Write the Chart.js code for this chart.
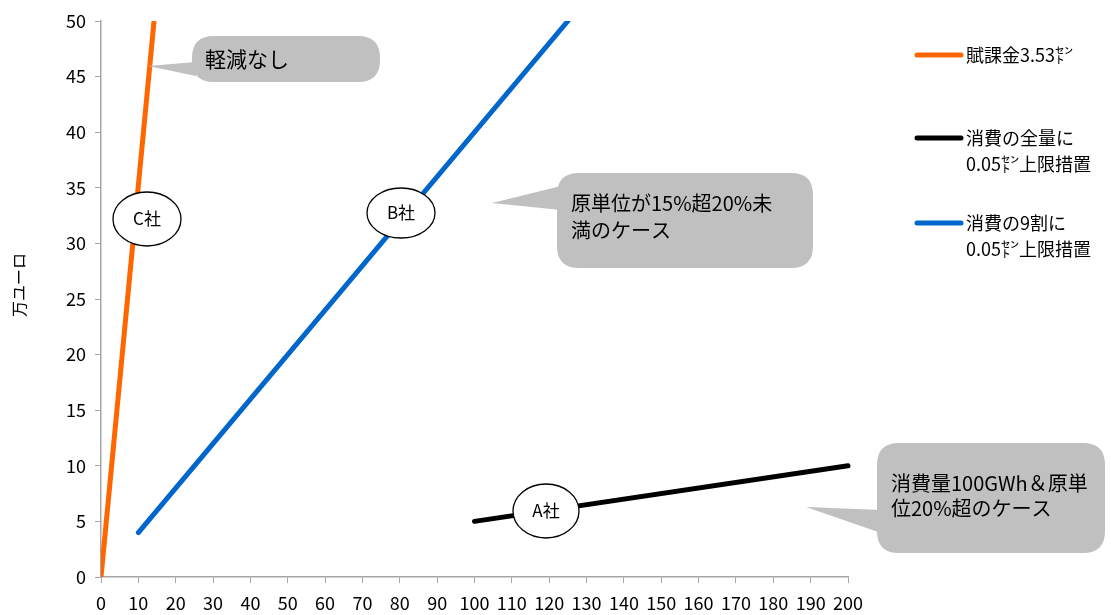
<!DOCTYPE html>
<html>
<head>
<meta charset="utf-8">
<script src="https://cdn.jsdelivr.net/npm/chart.js@4/dist/chart.umd.min.js"></script>
<style>
    html, body { margin: 0; padding: 0; background: #fff; }
</style>
</head>
<body>
<canvas id="chart" width="1111" height="615"></canvas>
<script>
// series labels (legend, each entry = lines of text)
const seriesLabels = [
    ["賦課金3.53㌣"],
    ["消費の全量に", "0.05㌣上限措置"],
    ["消費の9割に", "0.05㌣上限措置"],
];
const seriesColors = ["#ff6600", "#000000", "#0066cc"];

// 賦課金3.53セント (C社, 軽減なし)
const noReliefX = [0, 14.2];
const noReliefY = [0, 50];
// 消費の全量に0.05セント上限 (A社)
const fullCapX = [100, 200];
const fullCapY = [5, 10];
// 消費の9割に0.05セント上限 (B社)
const ninetyCapX = [10, 125];
const ninetyCapY = [4, 50];

const xMin = 0, xMax = 200, xStep = 10;
const yMin = 0, yMax = 50, yStep = 5;
const yAxisTitle = "万ユーロ";

const FONT = "'Noto Sans CJK JP', 'Noto Sans', sans-serif";

const toPoints = (xs, ys) => xs.map((x, i) => ({ x: x, y: ys[i] }));

// decorations: labels on lines and speech-bubble notes
const companyTags = [
    { text: "C社", cx: 147, cy: 219, rx: 34, ry: 27 },
    { text: "B社", cx: 401, cy: 213, rx: 34, ry: 25 },
    { text: "A社", cx: 546, cy: 511, rx: 33, ry: 27 },
];
const notes = [
    { lines: ["軽減なし"], box: [192, 36, 380, 82], tip: [148, 66], base: [62, 76], tx: 205, ty: 59, size: 21, lh: 26 },
    { lines: ["原単位が15%超20%未", "満のケース"], box: [557, 173, 813, 268], tip: [492, 203], base: [186, 210], tx: 571, ty: 203, size: 20, lh: 27 },
    { lines: ["消費量100GWh＆原単", "位20%超のケース"], box: [877, 443, 1105, 553], tip: [806, 507], base: [510, 533], tx: 891, ty: 483, size: 20, lh: 25 },
];
const legendRows = [55, 138, 223];

function roundRect(ctx, x1, y1, x2, y2, r) {
    ctx.beginPath();
    ctx.moveTo(x1 + r, y1);
    ctx.lineTo(x2 - r, y1);
    ctx.quadraticCurveTo(x2, y1, x2, y1 + r);
    ctx.lineTo(x2, y2 - r);
    ctx.quadraticCurveTo(x2, y2, x2 - r, y2);
    ctx.lineTo(x1 + r, y2);
    ctx.quadraticCurveTo(x1, y2, x1, y2 - r);
    ctx.lineTo(x1, y1 + r);
    ctx.quadraticCurveTo(x1, y1, x1 + r, y1);
    ctx.closePath();
}

const decorations = {
    id: "decorations",
    afterDraw(chart) {
        const ctx = chart.ctx;
        ctx.save();

        // y axis title
        ctx.save();
        ctx.translate(19, 285);
        ctx.rotate(-Math.PI / 2);
        ctx.fillStyle = "#000";
        ctx.font = "16px " + FONT;
        ctx.textAlign = "center";
        ctx.textBaseline = "middle";
        ctx.fillText(yAxisTitle, 0, 0);
        ctx.restore();

        // company ellipses
        companyTags.forEach((t) => {
            ctx.beginPath();
            ctx.ellipse(t.cx, t.cy, t.rx, t.ry, 0, 0, Math.PI * 2);
            ctx.fillStyle = "#fff";
            ctx.fill();
            ctx.lineWidth = 1.3;
            ctx.strokeStyle = "#000";
            ctx.stroke();
            ctx.fillStyle = "#000";
            ctx.font = "17px " + FONT;
            ctx.textAlign = "center";
            ctx.textBaseline = "middle";
            ctx.fillText(t.text, t.cx, t.cy);
        });

        // speech bubbles
        notes.forEach((n) => {
            const [x1, y1, x2, y2] = n.box;
            ctx.fillStyle = "#c0c0c0";
            roundRect(ctx, x1, y1, x2, y2, 22);
            ctx.fill();
            ctx.beginPath();
            ctx.moveTo(n.tip[0], n.tip[1]);
            ctx.lineTo(x1 + 4, n.base[0]);
            ctx.lineTo(x1 + 4, n.base[1]);
            ctx.closePath();
            ctx.fill();
            ctx.fillStyle = "#000";
            ctx.font = n.size + "px " + FONT;
            ctx.textAlign = "left";
            ctx.textBaseline = "middle";
            n.lines.forEach((line, i) => ctx.fillText(line, n.tx, n.ty + i * n.lh));
        });

        // legend
        chart.data.datasets.forEach((ds, i) => {
            const y = legendRows[i];
            ctx.beginPath();
            ctx.moveTo(917, y);
            ctx.lineTo(961, y);
            ctx.lineWidth = 5;
            ctx.lineCap = "round";
            ctx.strokeStyle = ds.borderColor;
            ctx.stroke();
            ctx.fillStyle = "#000";
            ctx.font = "18px " + FONT;
            ctx.textAlign = "left";
            ctx.textBaseline = "middle";
            seriesLabels[i].forEach((line, j) => ctx.fillText(line, 966, y + j * 26));
        });

        ctx.restore();
    },
};

const axisColor = "#a6a6a6";

new Chart(document.getElementById("chart"), {
    type: "line",
    data: {
        datasets: [
            {
                label: seriesLabels[0].join(""),
                data: toPoints(noReliefX, noReliefY),
                borderColor: seriesColors[0],
                borderWidth: 5,
                pointRadius: 0,
                clip: 0,
            },
            {
                label: seriesLabels[1].join(""),
                data: toPoints(fullCapX, fullCapY),
                borderColor: seriesColors[1],
                borderWidth: 5,
                borderCapStyle: "round",
                pointRadius: 0,
                clip: false,
            },
            {
                label: seriesLabels[2].join(""),
                data: toPoints(ninetyCapX, ninetyCapY),
                borderColor: seriesColors[2],
                borderWidth: 5,
                borderCapStyle: "round",
                pointRadius: 0,
                clip: 0,
            },
        ],
    },
    options: {
        responsive: false,
        animation: false,
        layout: { padding: { left: 0, right: 263, top: 21, bottom: 0 } },
        plugins: {
            legend: { display: false },
            tooltip: { enabled: false },
        },
        scales: {
            x: {
                type: "linear",
                min: xMin,
                max: xMax,
                ticks: {
                    stepSize: xStep,
                    autoSkip: false,
                    maxRotation: 0,
                    color: "#000",
                    padding: 9,
                    font: { size: 18, family: FONT },
                },
                grid: { drawOnChartArea: false, tickLength: 6, color: axisColor },
                border: { color: axisColor, width: 1.5 },
                afterFit: (scale) => { scale.height = 38; },
            },
            y: {
                min: yMin,
                max: yMax,
                ticks: {
                    stepSize: yStep,
                    color: "#000",
                    padding: 9,
                    font: { size: 18, family: FONT },
                },
                grid: { drawOnChartArea: false, tickLength: 6, color: axisColor },
                border: { color: axisColor, width: 1.5 },
                afterFit: (scale) => { scale.width = 101; },
            },
        },
    },
    plugins: [decorations],
});
</script>
</body>
</html>
